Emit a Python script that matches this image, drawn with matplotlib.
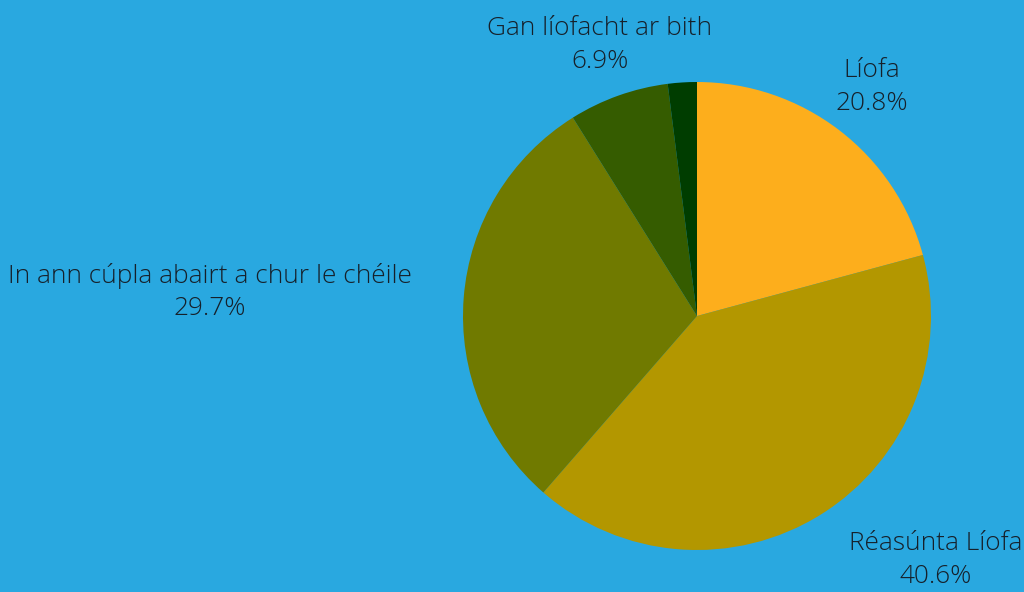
import matplotlib
matplotlib.use('Agg')
import matplotlib.pyplot as plt

labels = ['Líofa', 'Réasúnta Líofa', 'In ann cúpla abairt a chur le chéile',
          'Gan líofacht ar bith', '']
shares = [20.8, 40.6, 29.7, 6.9, 2.0]
colors = ['#FDAE1C', '#B39700', '#707A00', '#355C00', '#003D00']

# label centres, in units of the pie radius
label_pos = [(0.748, 0.979), (1.021, -1.043), (-2.081, 0.103), (-0.415, 1.158), None]

plt.rcParams['font.family'] = ['Open Sans', 'DejaVu Sans']

fig = plt.figure(figsize=(10.24, 5.92), dpi=100)
fig.patch.set_facecolor('#29A8E0')
ax = fig.add_axes([0, 0, 1, 1])
ax.set_facecolor('#29A8E0')

ax.pie(shares, colors=colors, startangle=90, counterclock=False,
       radius=1, center=(0, 0), wedgeprops={'linewidth': 0})

for lab, val, pos in zip(labels, shares, label_pos):
    if pos is None:
        continue
    ax.text(pos[0], pos[1], f'{lab}\n{val:.1f}%', ha='center', va='center',
            fontsize=18.9, color='#16202a', linespacing=1.38, fontweight='light')

ax.set_xlim(-697 / 234, (1024 - 697) / 234)
ax.set_ylim(-276 / 234, 316 / 234)
ax.set_aspect('equal')
ax.axis('off')

fig.savefig('out.png', dpi=100, facecolor='#29A8E0')
